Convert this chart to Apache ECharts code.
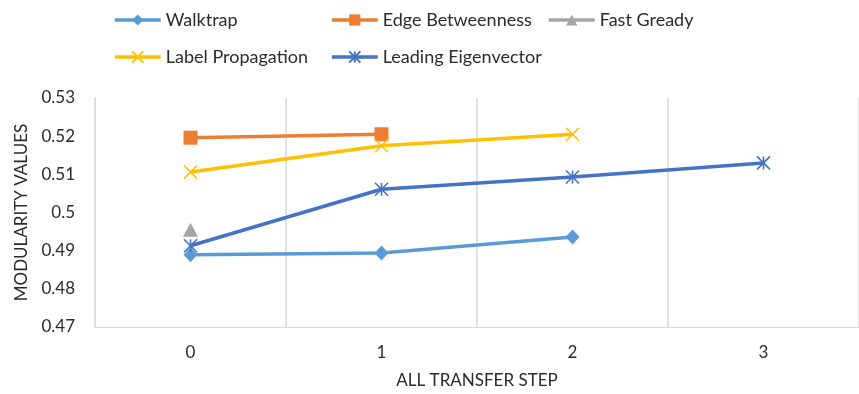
<!DOCTYPE html>
<html>
<head>
<meta charset="utf-8">
<script src="https://cdn.jsdelivr.net/npm/echarts@6/dist/echarts.min.js"></script>
<style>
  html, body { margin: 0; padding: 0; background: #fff; }
  #chart { width: 859px; height: 394px; }
</style>
</head>
<body>
<div id="chart"></div>
<script>
// Transfer steps on the x axis
const steps = ['0', '1', '2', '3'];

// Modularity values per community-detection algorithm
const walktrap = [0.4889, 0.4894, 0.4936, null];
const edgeBetweenness = [0.5196, 0.5205, null, null];
const fastGready = [0.4955, null, null, null];
const labelPropagation = [0.5106, 0.5175, 0.5205, null];
const leadingEigenvector = [0.4913, 0.5061, 0.5093, 0.5130];

const FONT = 'Lato';
const TEXT = '#2b2b2b';

const crossPath = 'path://M0,0L10,10M10,0L0,10';
const starPath = 'path://M0,0L10,10M10,0L0,10M5,0L5,10';

function lineSeries(name, data, color, symbol, size, stroked) {
  return {
    name: name,
    type: 'line',
    data: data,
    color: color,
    symbol: symbol,
    symbolSize: size,
    showAllSymbol: true,
    connectNulls: false,
    lineStyle: { width: 3.5, color: color },
    itemStyle: stroked
      ? { color: color, borderColor: color, borderWidth: 1.6 }
      : { color: color, borderWidth: 0 },
    emphasis: { disabled: true },
    animation: false
  };
}

function legendAt(name, left, top) {
  return {
    data: [name],
    left: left,
    top: top,
    itemWidth: 46,
    itemHeight: 14,
    padding: 0,
    lineStyle: { width: 3.5 },
    textStyle: { fontFamily: FONT, fontSize: 18, color: TEXT },
    selectedMode: false
  };
}

const chart = echarts.init(document.getElementById('chart'));
chart.setOption({
  backgroundColor: '#fff',
  animation: false,
  legend: [
    legendAt('Walktrap', 113, 11),
    legendAt('Edge Betweenness', 330, 11),
    legendAt('Fast Gready', 547, 11),
    legendAt('Label Propagation', 113, 48),
    legendAt('Leading Eigenvector', 330, 48)
  ],
  grid: { left: 95, right: -2, top: 98, bottom: 63, containLabel: false },
  xAxis: {
    type: 'category',
    data: steps,
    boundaryGap: true,
    name: 'ALL TRANSFER STEP',
    nameLocation: 'middle',
    nameGap: 45,
    nameTextStyle: { fontFamily: FONT, fontSize: 17, color: TEXT },
    axisLine: { show: true, lineStyle: { color: '#d9d9d9', width: 1 } },
    axisTick: { show: false },
    axisLabel: { fontFamily: FONT, fontSize: 17, color: TEXT, margin: 17 },
    splitLine: { show: true, lineStyle: { color: '#d9d9d9', width: 1.5 } }
  },
  yAxis: {
    type: 'value',
    min: 0.47,
    max: 0.53,
    interval: 0.01,
    name: 'MODULARITY VALUES',
    nameLocation: 'middle',
    nameGap: 64,
    nameRotate: 90,
    nameTextStyle: { fontFamily: FONT, fontSize: 17, color: TEXT },
    axisLine: { show: true, lineStyle: { color: '#d9d9d9', width: 1 } },
    axisTick: { show: false },
    axisLabel: {
      fontFamily: FONT, fontSize: 17, color: TEXT, margin: 20,
      formatter: function (v) { return String(+v.toFixed(2)); }
    },
    splitLine: { show: false }
  },
  series: [
    lineSeries('Walktrap', walktrap, '#5B9BD5', 'diamond', [14, 15], false),
    lineSeries('Edge Betweenness', edgeBetweenness, '#ED7D31', 'rect', 14, false),
    lineSeries('Fast Gready', fastGready, '#A5A5A5', 'triangle', [15, 14], false),
    lineSeries('Label Propagation', labelPropagation, '#FFC000', crossPath, 13, true),
    lineSeries('Leading Eigenvector', leadingEigenvector, '#4472C4', starPath, 13, true)
  ]
});
</script>
</body>
</html>
